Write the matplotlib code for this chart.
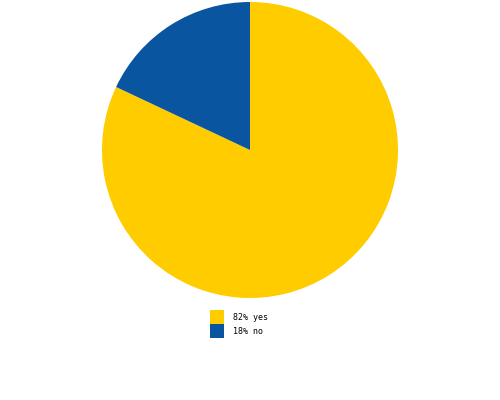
import matplotlib.pyplot as plt
from matplotlib.patches import Rectangle

labels = ['yes', 'no']
shares = [82, 18]
colors = ['#FFCC00', '#0A55A0']

fig = plt.figure(figsize=(5, 4), dpi=100)
ax = fig.add_axes([102 / 500, 102 / 400, 296 / 500, 296 / 400])
ax.pie(shares, colors=colors, startangle=90, counterclock=False,
       wedgeprops={'linewidth': 0})
ax.set_xlim(-1, 1)
ax.set_ylim(-1, 1)
ax.set_aspect('equal')
ax.axis('off')

# legend drawn by hand, boxes and small mono text
for i, (lab, val) in enumerate(zip(labels, shares)):
    top = 310 + i * 14
    fig.patches.append(Rectangle((210 / 500, 1 - (top + 14) / 400), 14 / 500, 14 / 400,
                                 transform=fig.transFigure, facecolor=colors[i],
                                 edgecolor='none'))
    fig.text(233 / 500, 1 - (top + 7) / 400, f'{val}% {lab}',
             fontsize=6, family='DejaVu Sans Mono', va='center', ha='left')

fig.savefig('out.png', dpi=100)
